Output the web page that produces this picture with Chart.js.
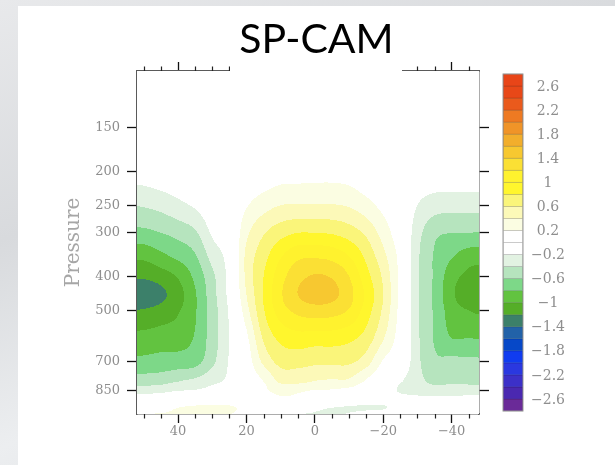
<!DOCTYPE html>
<html>
<head>
<meta charset="utf-8">
<script src="https://cdn.jsdelivr.net/npm/chart.js@4.4.0/dist/chart.umd.min.js"></script>
<style>
  html, body { margin: 0; padding: 0; }
  body { width: 615px; height: 465px; overflow: hidden; position: relative;
         background: linear-gradient(160deg, #e8e9eb, #d8dadd 35%, #eceef0 65%, #d9dbde); }
  #panel { position: absolute; left: 18px; top: 6px; width: 597px; height: 459px; background: #fff; }
</style>
</head>
<body>
<div id="panel"><canvas id="spcamChart" width="597" height="459"></canvas></div>
<script>
// grid columns (latitude, deg) and rows (pressure, hPa)
const latitudes = [55, 50, 45, 40, 35, 30, 25, 20, 15, 10, 5, 0, -5, -10, -15, -20, -25, -30, -35, -40, -45, -50];
const pressures = [100, 150, 200, 250, 300, 350, 400, 450, 500, 600, 700, 800, 850, 900, 950, 1000];

// anomaly, one row per pressure level
const at100  = [0, 0, 0, 0, 0, 0, 0, 0, 0, 0, 0, 0, 0, 0, 0, 0, 0, 0, 0, 0, 0, 0];
const at150  = [0, 0, 0, 0, 0, 0, 0, 0.01, 0.02, 0.02, 0.02, 0.02, 0.02, 0.02, 0.02, 0.01, 0, 0, 0, 0, 0, 0];
const at200  = [-0.1, -0.09, -0.05, -0.03, 0, 0, 0, 0.02, 0.05, 0.1, 0.11, 0.12, 0.12, 0.1, 0.03, 0.01, 0.01, -0.03, -0.05, -0.05, -0.05, -0.05];
const at250  = [-0.4, -0.38, -0.33, -0.25, -0.17, -0.05, 0, 0.18, 0.31, 0.4, 0.41, 0.41, 0.41, 0.38, 0.27, 0.14, 0.03, -0.2, -0.3, -0.32, -0.32, -0.32];
const at300  = [-0.66, -0.65, -0.6, -0.53, -0.43, -0.17, -0.05, 0.35, 0.58, 0.72, 0.8, 0.8, 0.78, 0.7, 0.56, 0.31, 0.05, -0.32, -0.55, -0.6, -0.6, -0.62];
const at350  = [-0.95, -0.95, -0.85, -0.75, -0.62, -0.32, -0.1, 0.45, 0.72, 0.98, 1.15, 1.17, 1.13, 1.0, 0.75, 0.46, 0.12, -0.36, -0.62, -0.78, -0.9, -0.92];
const at400  = [-1.17, -1.17, -1.1, -0.98, -0.75, -0.45, -0.12, 0.45, 0.8, 1.12, 1.33, 1.42, 1.38, 1.2, 0.88, 0.56, 0.13, -0.37, -0.63, -0.92, -1.05, -1.1];
const at450  = [-1.36, -1.35, -1.25, -1.08, -0.82, -0.48, -0.13, 0.4, 0.81, 1.17, 1.4, 1.5, 1.46, 1.27, 0.96, 0.6, 0.13, -0.37, -0.64, -0.96, -1.12, -1.22];
const at500  = [-1.2, -1.18, -1.12, -1.02, -0.82, -0.5, -0.17, 0.32, 0.78, 1.1, 1.25, 1.3, 1.28, 1.18, 0.9, 0.56, 0.12, -0.37, -0.63, -0.9, -1.0, -1.04];
const at600  = [-0.94, -0.93, -0.9, -0.88, -0.78, -0.5, -0.2, 0.15, 0.63, 0.85, 0.92, 0.9, 0.9, 0.85, 0.72, 0.42, 0.08, -0.36, -0.62, -0.8, -0.8, -0.82];
const at700  = [-0.76, -0.75, -0.73, -0.72, -0.68, -0.45, -0.18, 0.08, 0.45, 0.67, 0.68, 0.65, 0.65, 0.64, 0.5, 0.18, 0.02, -0.35, -0.56, -0.55, -0.56, -0.57];
const at800  = [-0.5, -0.5, -0.48, -0.4, -0.35, -0.25, -0.15, 0.05, 0.2, 0.44, 0.45, 0.39, 0.37, 0.36, 0.17, 0, -0.18, -0.33, -0.45, -0.43, -0.44, -0.45];
const at850  = [-0.28, -0.28, -0.25, -0.2, -0.18, -0.12, -0.03, 0.05, 0.17, 0.24, 0.23, 0.18, 0.17, 0.12, 0.05, -0.08, -0.22, -0.25, -0.3, -0.3, -0.3, -0.3];
const at900  = [-0.08, -0.06, -0.05, 0, 0.03, 0.08, 0.08, 0.1, 0.15, 0.17, 0.15, 0.05, 0, -0.05, -0.08, -0.1, -0.12, -0.15, -0.12, -0.12, -0.1, -0.1];
const at950  = [0.1, 0.1, 0.12, 0.2, 0.24, 0.25, 0.23, 0.15, 0.08, 0, -0.05, -0.15, -0.2, -0.22, -0.23, -0.22, -0.1, -0.02, 0.05, 0.08, 0.1, 0.1];
const at1000 = [0.22, 0.22, 0.22, 0.22, 0.22, 0.21, 0.2, 0.1, -0.15, -0.21, -0.22, -0.22, -0.22, -0.18, -0.1, -0.05, 0, 0.1, 0.2, 0.22, 0.22, 0.22];
const fieldRows = [at100, at150, at200, at250, at300, at350, at400, at450, at500, at600, at700, at800, at850, at900, at950, at1000];

// contour levels and fill colours (lowest band first)
const levels = [-2.6, -2.4, -2.2, -2.0, -1.8, -1.6, -1.4, -1.2, -1.0, -0.8, -0.6, -0.4, -0.2, 0,
                0.2, 0.4, 0.6, 0.8, 1.0, 1.2, 1.4, 1.6, 1.8, 2.0, 2.2, 2.4, 2.6];
const levelColors = ['#6a2a98', '#4a28b0', '#3c30c8', '#2a38e0', '#103cf0', '#0648c8', '#2262a8', '#3c806a',
                     '#55ae28', '#62c340', '#7dd888', '#b6e4be', '#e2f2e2', '#ffffff', '#ffffff', '#fbfde2',
                     '#fcf9b8', '#faf57a', '#fff62d', '#fff22e', '#fbe034', '#f7c830', '#f2ae2c', '#f09428',
                     '#ee7a22', '#ea5a1c', '#e84818', '#e84518'];

const latTicks = [40, 20, 0, -20, -40];
const latMinorTicks = [50, 45, 35, 30, 25, 15, 10, 5, -5, -10, -15, -25, -30, -35, -45];
const pressureTicks = [150, 200, 250, 300, 400, 500, 700, 850];

const fmt = v => (v < 0 ? '\u2212' : '') + Math.abs(v);
const tickFont = { family: 'DejaVu Serif', size: 13 };
const labelGray = '#8e8e8e';

function cubic(p0, p1, p2, p3, t) {
  return p1 + 0.5 * t * (p2 - p0 + t * (2 * p0 - 5 * p1 + 4 * p2 - p3 + t * (3 * (p1 - p2) + p3 - p0)));
}

function rowValue(row, fi) {
  const n = row.length;
  const i = Math.floor(fi), t = fi - i;
  const g = k => row[Math.max(0, Math.min(n - 1, k))];
  return cubic(g(i - 1), g(i), g(i + 1), g(i + 2), t);
}

function sampleField(lat, p) {
  const fi = (latitudes[0] - lat) / (latitudes[0] - latitudes[1]);
  let k = 0;
  while (k < pressures.length - 2 && p > pressures[k + 1]) k++;
  let t = Math.log(p / pressures[k]) / Math.log(pressures[k + 1] / pressures[k]);
  t = Math.max(0, Math.min(1, t));
  const n = fieldRows.length;
  const r = j => rowValue(fieldRows[Math.max(0, Math.min(n - 1, j))], fi);
  return cubic(r(k - 1), r(k), r(k + 1), r(k + 2), t);
}

function bandOf(v) {
  let c = 0;
  while (c < levels.length && v >= levels[c]) c++;
  return c;
}

const rgb = levelColors.map(h => [1, 3, 5].map(i => parseInt(h.substr(i, 2), 16)));

const contourFill = {
  id: 'contourFill',
  beforeDatasetsDraw(chart) {
    const { ctx, chartArea: a, scales: { x, y } } = chart;
    const w = Math.round(a.right - a.left), h = Math.round(a.bottom - a.top);
    const off = document.createElement('canvas');
    off.width = w; off.height = h;
    const octx = off.getContext('2d');
    const img = octx.createImageData(w, h);
    for (let j = 0; j < h; j++) {
      const p = y.getValueForPixel(a.top + j + 0.5);
      for (let i = 0; i < w; i++) {
        const lat = x.getValueForPixel(a.left + i + 0.5);
        const c = rgb[bandOf(sampleField(lat, p))];
        const o = (j * w + i) * 4;
        img.data[o] = c[0]; img.data[o + 1] = c[1]; img.data[o + 2] = c[2]; img.data[o + 3] = 255;
      }
    }
    octx.putImageData(img, 0, 0);
    ctx.drawImage(off, a.left, a.top);
  }
};

const extras = {
  id: 'extras',
  afterDraw(chart) {
    const { ctx, chartArea: a, scales: { x } } = chart;
    ctx.save();
    // minor latitude ticks, bottom and top
    ctx.strokeStyle = '#222';
    ctx.lineWidth = 1.2;
    latMinorTicks.forEach(v => {
      const px = Math.round(x.getPixelForValue(v)) + 0.5;
      ctx.beginPath();
      ctx.moveTo(px, a.bottom); ctx.lineTo(px, a.bottom + 4.5);
      ctx.moveTo(px, a.top); ctx.lineTo(px, a.top - 4.5);
      ctx.stroke();
    });

    // colour bar
    const cbLeft = a.right + 24, cbW = 20;
    const cbTop = a.top + 3, cbBottom = a.bottom - 3;
    const bh = (cbBottom - cbTop) / levelColors.length;
    levelColors.forEach((col, k) => {
      const yb = cbBottom - (k + 1) * bh;
      ctx.fillStyle = col;
      ctx.fillRect(cbLeft, yb, cbW, bh);
      ctx.strokeStyle = 'rgba(0,0,0,0.18)';
      ctx.lineWidth = 0.8;
      ctx.strokeRect(cbLeft + 0.4, yb, cbW - 0.8, bh);
    });
    ctx.strokeStyle = '#9a9a9a';
    ctx.lineWidth = 1;
    ctx.strokeRect(cbLeft, cbTop, cbW, cbBottom - cbTop);
    ctx.fillStyle = labelGray;
    ctx.font = '14px "DejaVu Serif"';
    ctx.textAlign = 'center';
    ctx.textBaseline = 'middle';
    levels.forEach((lv, k) => {
      if (k % 2 !== 0) return;
      ctx.fillText(fmt(lv), cbLeft + 45, cbBottom - (k + 1) * bh + 1);
    });

    // title on a white patch over the top axis
    ctx.fillStyle = '#fff';
    ctx.fillRect(212, 0, 172, a.top + 1.5);
    ctx.fillStyle = '#000';
    ctx.font = '41px Lato';
    ctx.textAlign = 'center';
    ctx.textBaseline = 'alphabetic';
    ctx.fillText('SP-CAM', chart.width / 2, 47);
    ctx.restore();
  }
};

const gridPoints = [];
pressures.forEach((p, r) => latitudes.forEach((lat, c) => gridPoints.push({ x: lat, y: p, v: fieldRows[r][c] })));

const axisCommon = {
  z: 1,
  border: { color: '#5a5a5a', width: 1.5 },
  grid: { drawOnChartArea: false, tickColor: '#111', tickWidth: 1.3 }
};

const ctx = document.getElementById('spcamChart').getContext('2d');
new Chart(ctx, {
  type: 'scatter',
  data: {
    datasets: [{
      label: 'SP-CAM',
      data: gridPoints,
      pointRadius: 0,
      pointHoverRadius: 0
    }]
  },
  options: {
    responsive: false,
    animation: false,
    events: [],
    layout: { padding: 0 },
    plugins: { legend: { display: false }, tooltip: { enabled: false } },
    scales: {
      x: {
        ...axisCommon,
        type: 'linear', position: 'bottom', reverse: true, min: -48, max: 52,
        afterBuildTicks: s => { s.ticks = latTicks.map(v => ({ value: v })); },
        afterFit: s => { s.height = 51; },
        grid: { ...axisCommon.grid, tickLength: 9 },
        ticks: { callback: fmt, font: tickFont, color: labelGray, padding: 1, maxRotation: 0, autoSkip: false }
      },
      x2: {
        ...axisCommon,
        type: 'linear', position: 'top', reverse: true, min: -48, max: 52,
        afterBuildTicks: s => { s.ticks = latTicks.map(v => ({ value: v })); },
        afterFit: s => { s.height = 65; },
        grid: { ...axisCommon.grid, tickLength: 9 },
        ticks: { display: false }
      },
      y: {
        ...axisCommon,
        type: 'logarithmic', position: 'left', reverse: true, min: 103.2, max: 990,
        afterBuildTicks: s => { s.ticks = pressureTicks.map(v => ({ value: v })); },
        afterFit: s => { s.width = 119; },
        grid: { ...axisCommon.grid, tickLength: 10 },
        ticks: { callback: v => String(v), font: tickFont, color: labelGray, padding: 7, autoSkip: false },
        title: { display: true, text: 'Pressure', color: '#a6a6a6', font: { family: 'DejaVu Serif', size: 20 },
                 padding: { top: 44, bottom: 0 } }
      },
      y2: {
        ...axisCommon,
        type: 'logarithmic', position: 'right', reverse: true, min: 103.2, max: 990,
        afterBuildTicks: s => { s.ticks = pressureTicks.map(v => ({ value: v })); },
        afterFit: s => { s.width = 136; },
        grid: { ...axisCommon.grid, tickLength: 10 },
        ticks: { display: false }
      }
    }
  },
  plugins: [contourFill, extras]
});
</script>
</body>
</html>
